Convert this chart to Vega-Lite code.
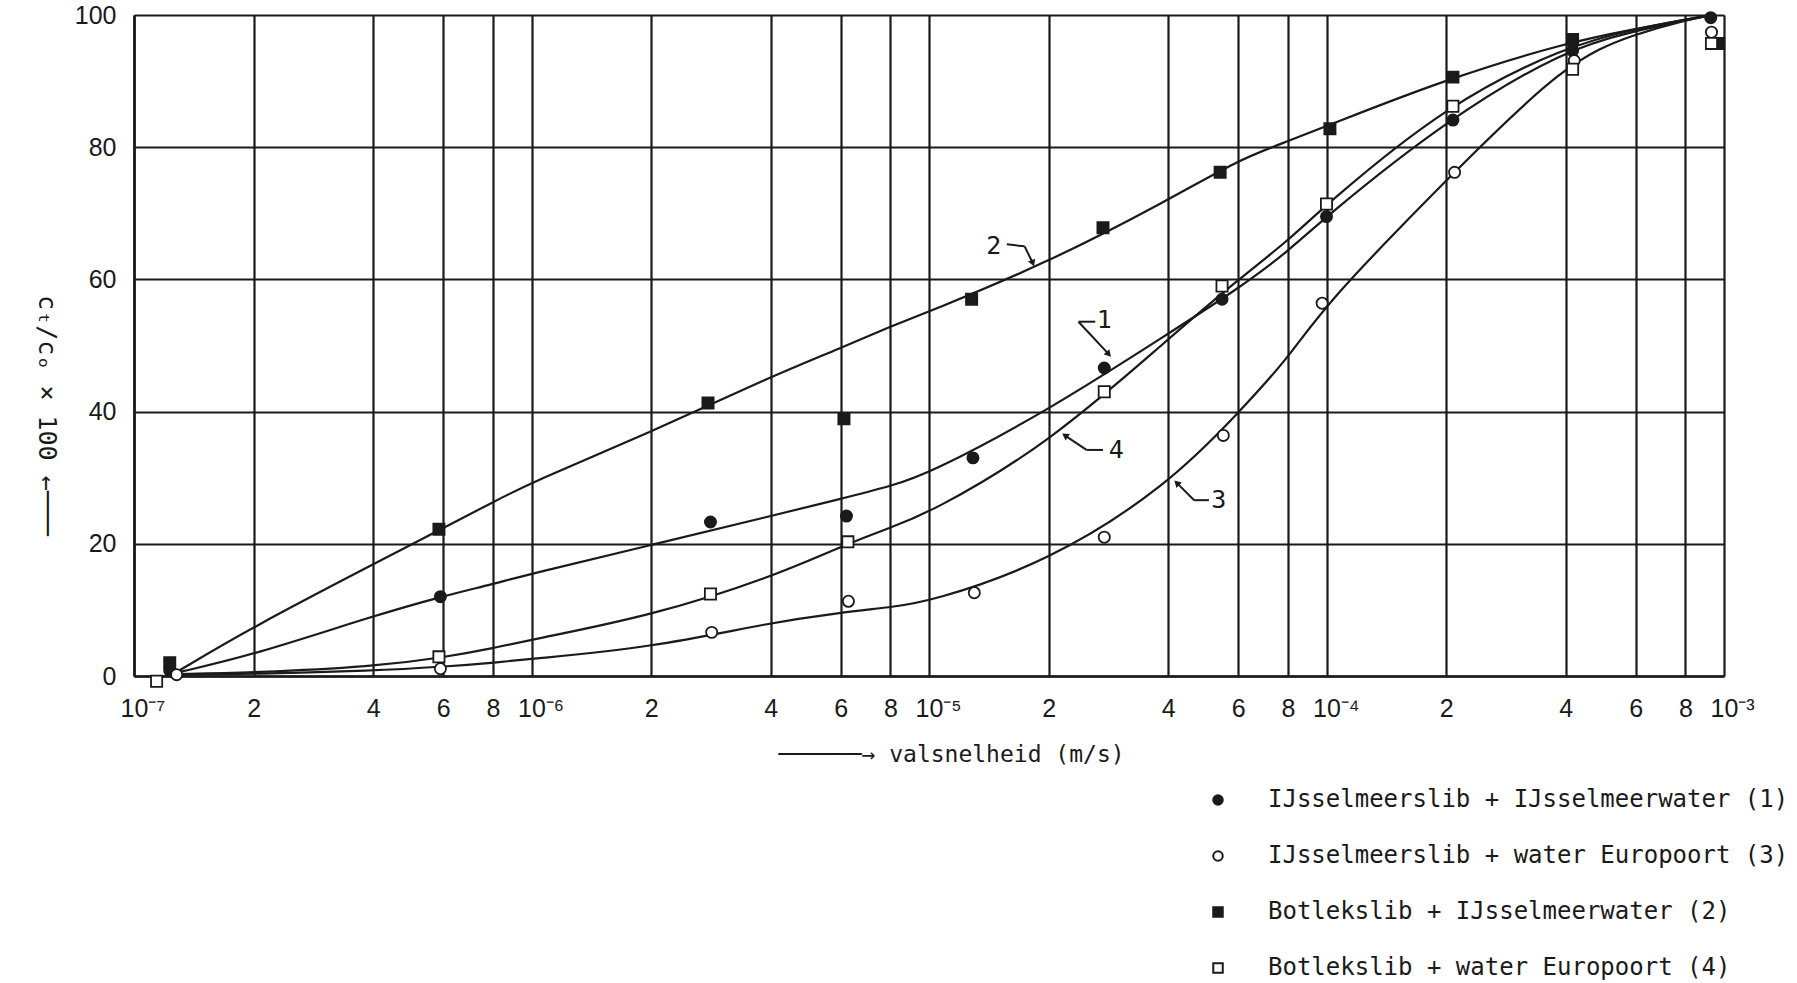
{
  "$schema": "https://vega.github.io/schema/vega-lite/v6.json",
  "width": 1590,
  "height": 661,
  "autosize": {"type": "none"},
  "padding": {"left": 134, "top": 15, "right": 73, "bottom": 307},
  "background": "white",
  "config": {
    "view": {"stroke": null},
    "font": "DejaVu Sans Mono",
    "legend": {
      "orient": "none", "legendX": 1072, "legendY": 773,
      "labelFont": "DejaVu Sans Mono", "labelFontSize": 24, "labelColor": "#1a1a1a",
      "symbolSize": 90, "symbolStrokeWidth": 2,
      "rowPadding": 32, "labelOffset": 38, "labelLimit": 800
    }
  },
  "datasets": {
    "points": [
      {"serie": "IJsselmeerslib + IJsselmeerwater (1)", "v": 1.23e-7, "c": 0.8},
      {"serie": "IJsselmeerslib + IJsselmeerwater (1)", "v": 5.9e-7, "c": 12.0},
      {"serie": "IJsselmeerslib + IJsselmeerwater (1)", "v": 2.82e-6, "c": 23.3},
      {"serie": "IJsselmeerslib + IJsselmeerwater (1)", "v": 6.2e-6, "c": 24.2},
      {"serie": "IJsselmeerslib + IJsselmeerwater (1)", "v": 1.29e-5, "c": 33.0},
      {"serie": "IJsselmeerslib + IJsselmeerwater (1)", "v": 2.76e-5, "c": 46.6},
      {"serie": "IJsselmeerslib + IJsselmeerwater (1)", "v": 5.46e-5, "c": 57.0},
      {"serie": "IJsselmeerslib + IJsselmeerwater (1)", "v": 1.0e-4, "c": 69.5},
      {"serie": "IJsselmeerslib + IJsselmeerwater (1)", "v": 2.08e-4, "c": 84.1},
      {"serie": "IJsselmeerslib + IJsselmeerwater (1)", "v": 4.16e-4, "c": 94.6},
      {"serie": "IJsselmeerslib + IJsselmeerwater (1)", "v": 9.26e-4, "c": 99.6},
      {"serie": "Botlekslib + IJsselmeerwater (2)", "v": 1.23e-7, "c": 2.0},
      {"serie": "Botlekslib + IJsselmeerwater (2)", "v": 5.85e-7, "c": 22.2},
      {"serie": "Botlekslib + IJsselmeerwater (2)", "v": 2.78e-6, "c": 41.3},
      {"serie": "Botlekslib + IJsselmeerwater (2)", "v": 6.11e-6, "c": 38.9},
      {"serie": "Botlekslib + IJsselmeerwater (2)", "v": 1.28e-5, "c": 57.0},
      {"serie": "Botlekslib + IJsselmeerwater (2)", "v": 2.74e-5, "c": 67.8},
      {"serie": "Botlekslib + IJsselmeerwater (2)", "v": 5.4e-5, "c": 76.2},
      {"serie": "Botlekslib + IJsselmeerwater (2)", "v": 1.02e-4, "c": 82.8},
      {"serie": "Botlekslib + IJsselmeerwater (2)", "v": 2.08e-4, "c": 90.6},
      {"serie": "Botlekslib + IJsselmeerwater (2)", "v": 4.16e-4, "c": 96.3},
      {"serie": "Botlekslib + IJsselmeerwater (2)", "v": 9.7e-4, "c": 95.7},
      {"serie": "IJsselmeerslib + water Europoort (3)", "v": 1.28e-7, "c": 0.2},
      {"serie": "IJsselmeerslib + water Europoort (3)", "v": 5.9e-7, "c": 1.1},
      {"serie": "IJsselmeerslib + water Europoort (3)", "v": 2.84e-6, "c": 6.6},
      {"serie": "IJsselmeerslib + water Europoort (3)", "v": 6.27e-6, "c": 11.3},
      {"serie": "IJsselmeerslib + water Europoort (3)", "v": 1.3e-5, "c": 12.6},
      {"serie": "IJsselmeerslib + water Europoort (3)", "v": 2.76e-5, "c": 21.0},
      {"serie": "IJsselmeerslib + water Europoort (3)", "v": 5.5e-5, "c": 36.4},
      {"serie": "IJsselmeerslib + water Europoort (3)", "v": 9.75e-5, "c": 56.4},
      {"serie": "IJsselmeerslib + water Europoort (3)", "v": 2.1e-4, "c": 76.2},
      {"serie": "IJsselmeerslib + water Europoort (3)", "v": 4.2e-4, "c": 93.1},
      {"serie": "IJsselmeerslib + water Europoort (3)", "v": 9.3e-4, "c": 97.4},
      {"serie": "Botlekslib + water Europoort (4)", "v": 1.14e-7, "c": -0.8},
      {"serie": "Botlekslib + water Europoort (4)", "v": 5.85e-7, "c": 2.9},
      {"serie": "Botlekslib + water Europoort (4)", "v": 2.82e-6, "c": 12.4},
      {"serie": "Botlekslib + water Europoort (4)", "v": 6.25e-6, "c": 20.3},
      {"serie": "Botlekslib + water Europoort (4)", "v": 2.76e-5, "c": 43.0},
      {"serie": "Botlekslib + water Europoort (4)", "v": 5.46e-5, "c": 59.0},
      {"serie": "Botlekslib + water Europoort (4)", "v": 1.0e-4, "c": 71.4},
      {"serie": "Botlekslib + water Europoort (4)", "v": 2.08e-4, "c": 86.2},
      {"serie": "Botlekslib + water Europoort (4)", "v": 4.16e-4, "c": 91.8},
      {"serie": "Botlekslib + water Europoort (4)", "v": 9.3e-4, "c": 95.7}
    ],
    "curves": [
      {"curve": "2", "v": 1.28e-7, "c": 0.6},
      {"curve": "2", "v": 2e-7, "c": 7.5},
      {"curve": "2", "v": 4e-7, "c": 16.9},
      {"curve": "2", "v": 6e-7, "c": 22.4},
      {"curve": "2", "v": 8e-7, "c": 26.3},
      {"curve": "2", "v": 1e-6, "c": 29.3},
      {"curve": "2", "v": 2e-6, "c": 36.9},
      {"curve": "2", "v": 4e-6, "c": 45.3},
      {"curve": "2", "v": 6e-6, "c": 49.6},
      {"curve": "2", "v": 8e-6, "c": 52.9},
      {"curve": "2", "v": 1e-5, "c": 55.1},
      {"curve": "2", "v": 2e-5, "c": 62.6},
      {"curve": "2", "v": 4e-5, "c": 72.0},
      {"curve": "2", "v": 6e-5, "c": 78.1},
      {"curve": "2", "v": 8e-5, "c": 80.9},
      {"curve": "2", "v": 1e-4, "c": 83.2},
      {"curve": "2", "v": 2e-4, "c": 90.3},
      {"curve": "2", "v": 4e-4, "c": 95.8},
      {"curve": "2", "v": 6e-4, "c": 97.9},
      {"curve": "2", "v": 8e-4, "c": 99.3},
      {"curve": "2", "v": 9.3e-4, "c": 100},
      {"curve": "1", "v": 1.28e-7, "c": 0.5},
      {"curve": "1", "v": 2e-7, "c": 3.2},
      {"curve": "1", "v": 4e-7, "c": 9.1},
      {"curve": "1", "v": 6e-7, "c": 12.1},
      {"curve": "1", "v": 8e-7, "c": 13.9},
      {"curve": "1", "v": 1e-6, "c": 15.5},
      {"curve": "1", "v": 2e-6, "c": 19.8},
      {"curve": "1", "v": 4e-6, "c": 24.2},
      {"curve": "1", "v": 6e-6, "c": 26.8},
      {"curve": "1", "v": 8e-6, "c": 28.7},
      {"curve": "1", "v": 1e-5, "c": 30.6},
      {"curve": "1", "v": 2e-5, "c": 40.2},
      {"curve": "1", "v": 4e-5, "c": 51.8},
      {"curve": "1", "v": 6e-5, "c": 58.6},
      {"curve": "1", "v": 8e-5, "c": 64.2},
      {"curve": "1", "v": 1e-4, "c": 69.6},
      {"curve": "1", "v": 2e-4, "c": 84.1},
      {"curve": "1", "v": 4e-4, "c": 94.9},
      {"curve": "1", "v": 6e-4, "c": 97.6},
      {"curve": "1", "v": 8e-4, "c": 99.2},
      {"curve": "1", "v": 9.3e-4, "c": 100},
      {"curve": "4", "v": 1.28e-7, "c": 0.3},
      {"curve": "4", "v": 2e-7, "c": 0.5},
      {"curve": "4", "v": 4e-7, "c": 1.4},
      {"curve": "4", "v": 6e-7, "c": 2.8},
      {"curve": "4", "v": 8e-7, "c": 4.2},
      {"curve": "4", "v": 1e-6, "c": 5.5},
      {"curve": "4", "v": 2e-6, "c": 9.1},
      {"curve": "4", "v": 4e-6, "c": 14.9},
      {"curve": "4", "v": 6e-6, "c": 19.6},
      {"curve": "4", "v": 8e-6, "c": 22.5},
      {"curve": "4", "v": 1e-5, "c": 24.6},
      {"curve": "4", "v": 2e-5, "c": 35.1},
      {"curve": "4", "v": 4e-5, "c": 51.0},
      {"curve": "4", "v": 6e-5, "c": 60.0},
      {"curve": "4", "v": 8e-5, "c": 65.8},
      {"curve": "4", "v": 1e-4, "c": 71.4},
      {"curve": "4", "v": 2e-4, "c": 86.4},
      {"curve": "4", "v": 4e-4, "c": 95.3},
      {"curve": "4", "v": 6e-4, "c": 97.9},
      {"curve": "4", "v": 8e-4, "c": 99.3},
      {"curve": "4", "v": 9.3e-4, "c": 100},
      {"curve": "3", "v": 1.28e-7, "c": 0.2},
      {"curve": "3", "v": 2e-7, "c": 0.3},
      {"curve": "3", "v": 4e-7, "c": 0.8},
      {"curve": "3", "v": 6e-7, "c": 1.4},
      {"curve": "3", "v": 8e-7, "c": 2.0},
      {"curve": "3", "v": 1e-6, "c": 2.6},
      {"curve": "3", "v": 2e-6, "c": 4.3},
      {"curve": "3", "v": 4e-6, "c": 8.1},
      {"curve": "3", "v": 6e-6, "c": 9.6},
      {"curve": "3", "v": 8e-6, "c": 10.4},
      {"curve": "3", "v": 1e-5, "c": 11.2},
      {"curve": "3", "v": 2e-5, "c": 17.2},
      {"curve": "3", "v": 4e-5, "c": 28.9},
      {"curve": "3", "v": 6e-5, "c": 39.8},
      {"curve": "3", "v": 8e-5, "c": 48.0},
      {"curve": "3", "v": 1e-4, "c": 56.5},
      {"curve": "3", "v": 2e-4, "c": 75.0},
      {"curve": "3", "v": 4e-4, "c": 93.0},
      {"curve": "3", "v": 6e-4, "c": 97.2},
      {"curve": "3", "v": 8e-4, "c": 99.2},
      {"curve": "3", "v": 9.3e-4, "c": 100}
    ],
    "labels": [
      {"label": "2", "v": 1.455e-5, "c": 65.0},
      {"label": "1", "v": 2.76e-5, "c": 53.9},
      {"label": "4", "v": 2.96e-5, "c": 34.2},
      {"label": "3", "v": 5.36e-5, "c": 26.6}
    ],
    "hooks": [
      {"label": "2", "v": 1.57e-5, "c": 65.3, "v2": 1.74e-5, "c2": 65.0},
      {"label": "2", "v": 1.74e-5, "c": 65.0, "v2": 1.82e-5, "c2": 62.6},
      {"label": "1", "v": 2.377e-5, "c": 53.6, "v2": 2.62e-5, "c2": 53.6},
      {"label": "1", "v": 2.377e-5, "c": 53.6, "v2": 2.82e-5, "c2": 48.8},
      {"label": "4", "v": 2.49e-5, "c": 34.2, "v2": 2.74e-5, "c2": 34.2},
      {"label": "4", "v": 2.49e-5, "c": 34.2, "v2": 2.21e-5, "c2": 36.3},
      {"label": "3", "v": 4.645e-5, "c": 26.6, "v2": 5.06e-5, "c2": 26.6},
      {"label": "3", "v": 4.645e-5, "c": 26.6, "v2": 4.22e-5, "c2": 29.1}
    ],
    "tips": [
      {"label": "2", "v": 1.82e-5, "c": 62.6},
      {"label": "1", "v": 2.82e-5, "c": 48.8},
      {"label": "4", "v": 2.21e-5, "c": 36.3},
      {"label": "3", "v": 4.22e-5, "c": 29.1}
    ]
  },
  "encoding": {
    "x": {
      "field": "v", "type": "quantitative",
      "scale": {"type": "log", "domain": [1e-7, 1e-3], "nice": false},
      "axis": {
        "title": "──────→ valsnelheid (m/s)",
        "values": [1e-7, 2e-7, 4e-7, 6e-7, 8e-7, 1e-6, 2e-6, 4e-6, 6e-6, 8e-6, 1e-5, 2e-5, 4e-5, 6e-5, 8e-5, 1e-4, 2e-4, 4e-4, 6e-4, 8e-4, 1e-3],
        "grid": true, "gridColor": "#1a1a1a", "gridWidth": 2.2, "gridOpacity": 1,
        "domainColor": "#1a1a1a", "domainWidth": 2.6,
        "ticks": false,
        "labelFont": "Liberation Sans", "labelFontSize": 25, "labelColor": "#1a1a1a", "labelPadding": 20,
        "labelFlush": false, "labelOverlap": false, "labelBound": false,
        "labelExpr": "abs(datum.value / pow(10, floor(log(datum.value) / LN10 + 0.00001)) - 1) < 0.01 ? '10' + ['⁻⁷','⁻⁶','⁻⁵','⁻⁴','⁻³'][floor(log(datum.value) / LN10 + 0.00001) + 7] : format(round(datum.value / pow(10, floor(log(datum.value) / LN10 + 0.00001))), 'd')",
        "labelAlign": {"condition": {"test": "abs(datum.value / pow(10, floor(log(datum.value) / LN10 + 0.00001)) - 1) < 0.01", "value": "left"}, "value": "center"},
        "labelOffset": {"condition": {"test": "abs(datum.value / pow(10, floor(log(datum.value) / LN10 + 0.00001)) - 1) < 0.01", "value": -14}, "value": 0},
        "titleFont": "DejaVu Sans Mono", "titleFontSize": 23, "titleFontWeight": "normal", "titleColor": "#1a1a1a",
        "titleX": 817, "titleY": 78, "titleAlign": "center", "titleBaseline": "middle"
      }
    },
    "y": {
      "field": "c", "type": "quantitative",
      "scale": {"domain": [0, 100], "nice": false},
      "axis": {
        "title": "cₜ/cₒ × 100   ←───",
        "values": [0, 20, 40, 60, 80, 100],
        "grid": true, "gridColor": "#1a1a1a", "gridWidth": 2.2, "gridOpacity": 1,
        "domainColor": "#1a1a1a", "domainWidth": 2.6,
        "ticks": false,
        "labelFont": "Liberation Sans", "labelFontSize": 25, "labelColor": "#1a1a1a", "labelPadding": 18,
        "titleFont": "DejaVu Sans Mono", "titleFontSize": 25, "titleFontWeight": "normal", "titleColor": "#1a1a1a",
        "titleAngle": 90, "titleX": -88, "titleY": 400, "titleAlign": "center", "titleBaseline": "middle"
      }
    }
  },
  "layer": [
    {
      "data": {"name": "curves"},
      "mark": {"type": "line", "interpolate": "basis", "color": "#1a1a1a", "strokeWidth": 2.2},
      "encoding": {"detail": {"field": "curve"}}
    },
    {
      "data": {"name": "hooks"},
      "mark": {"type": "rule", "color": "#1a1a1a", "strokeWidth": 2},
      "encoding": {"x2": {"field": "v2"}, "y2": {"field": "c2"}}
    },
    {
      "data": {"name": "tips"},
      "transform": [{"filter": "datum.label == '2'"}],
      "mark": {"type": "point", "shape": "triangle", "filled": true, "color": "#1a1a1a", "size": 60, "angle": 158, "opacity": 1},
      "encoding": {}
    },
    {
      "data": {"name": "tips"},
      "transform": [{"filter": "datum.label == '1'"}],
      "mark": {"type": "point", "shape": "triangle", "filled": true, "color": "#1a1a1a", "size": 60, "angle": 138, "opacity": 1},
      "encoding": {}
    },
    {
      "data": {"name": "tips"},
      "transform": [{"filter": "datum.label == '4'"}],
      "mark": {"type": "point", "shape": "triangle", "filled": true, "color": "#1a1a1a", "size": 60, "angle": 304, "opacity": 1},
      "encoding": {}
    },
    {
      "data": {"name": "tips"},
      "transform": [{"filter": "datum.label == '3'"}],
      "mark": {"type": "point", "shape": "triangle", "filled": true, "color": "#1a1a1a", "size": 60, "angle": 315, "opacity": 1},
      "encoding": {}
    },
    {
      "data": {"name": "labels"},
      "mark": {"type": "text", "font": "DejaVu Sans Mono", "fontSize": 25, "color": "#1a1a1a", "align": "center", "baseline": "middle"},
      "encoding": {"text": {"field": "label"}}
    },
    {
      "data": {"name": "points"},
      "mark": {"type": "point", "filled": true, "strokeWidth": 1.8, "size": 125, "opacity": 1},
      "encoding": {
        "fill": {
          "field": "serie", "type": "nominal",
          "scale": {
            "domain": ["IJsselmeerslib + IJsselmeerwater (1)", "IJsselmeerslib + water Europoort (3)", "Botlekslib + IJsselmeerwater (2)", "Botlekslib + water Europoort (4)"],
            "range": ["#1a1a1a", "#ffffff", "#1a1a1a", "#ffffff"]
          },
          "legend": {"title": null}
        },
        "stroke": {
          "field": "serie", "type": "nominal",
          "scale": {
            "domain": ["IJsselmeerslib + IJsselmeerwater (1)", "IJsselmeerslib + water Europoort (3)", "Botlekslib + IJsselmeerwater (2)", "Botlekslib + water Europoort (4)"],
            "range": ["#1a1a1a", "#1a1a1a", "#1a1a1a", "#1a1a1a"]
          },
          "legend": {"title": null}
        },
        "shape": {
          "field": "serie", "type": "nominal",
          "scale": {
            "domain": ["IJsselmeerslib + IJsselmeerwater (1)", "IJsselmeerslib + water Europoort (3)", "Botlekslib + IJsselmeerwater (2)", "Botlekslib + water Europoort (4)"],
            "range": ["circle", "circle", "square", "square"]
          },
          "legend": {"title": null}
        }
      }
    }
  ]
}
